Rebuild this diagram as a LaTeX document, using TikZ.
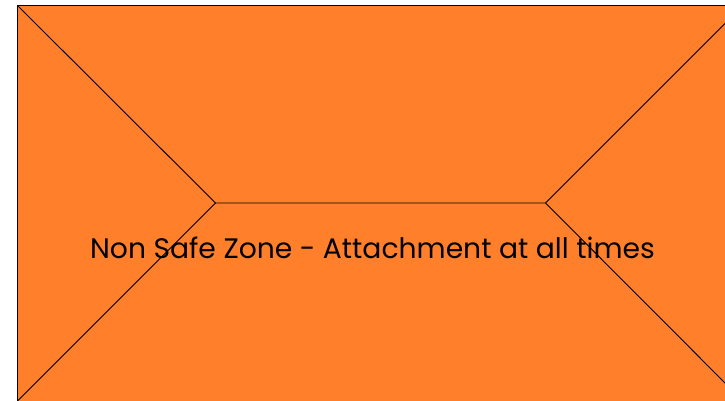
\documentclass[tikz,border=0pt]{standalone}
\usepackage{fontspec}
\setmainfont{Poppins}
\definecolor{zoneorange}{HTML}{FF7F2A}
\begin{document}
\begin{tikzpicture}[x=1pt,y=1pt,
  edge/.style={draw=black,line width=0.9pt},
  zonelabel/.style={font=\fontsize{28.2}{32}\selectfont,text=black,inner sep=0pt,anchor=base}]
\useasboundingbox (0,0) rectangle (725,400);
\clip (0,0) rectangle (725,400);
\coordinate (tl) at (17.5,394.5);
\coordinate (tr) at (743,394.5);
\coordinate (bl) at (17.5,-1);
\coordinate (br) at (743,-1);
\coordinate (il) at (215.5,197);
\coordinate (ir) at (545.5,197);
\fill[zoneorange] (tl) rectangle (br);
\draw[edge] (tl) rectangle (br);
\draw[edge] (tl) -- (il) -- (ir) -- (tr);
\draw[edge] (bl) -- (il);
\draw[edge] (br) -- (ir);
\node[zonelabel] (lbl) at (372.5,142) {Non Safe Zone - Attachment at all times};
\end{tikzpicture}
\end{document}
